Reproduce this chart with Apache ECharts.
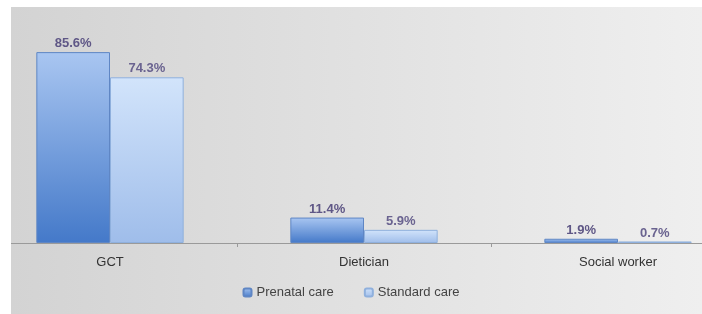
<!DOCTYPE html>
<html lang="en">
<head>
    <meta charset="UTF-8">
    <title>Care chart</title>
    <script src="https://cdn.jsdelivr.net/npm/echarts@6/dist/echarts.min.js"></script>
    <style>
        html, body {margin: 0; padding: 0; background: #fff;}
        #chart_box {width: 702px; height: 314px;}
    </style>
</head>
<body>
<div id="chart_box"></div>
<script>
    var categories = ['GCT', 'Dietician', 'Social worker'];
    var prenatalCare = [85.6, 11.4, 1.9];
    var standardCare = [74.3, 5.9, 0.7];
    var seriesNames = ['Prenatal care', 'Standard care'];

    var chart = echarts.init(document.getElementById('chart_box'));

    function barLabel(color) {
        return {
            show: true,
            position: 'top',
            distance: 2,
            color: color,
            fontFamily: 'Liberation Sans',
            fontWeight: 'bold',
            fontSize: 13,
            formatter: function (p) { return p.value.toFixed(1) + '%'; }
        };
    }

    var option = {
        animation: false,
        graphic: [{
            type: 'rect',
            silent: true,
            z: -10,
            shape: {x: 11, y: 7, width: 691, height: 307},
            style: {
                fill: new echarts.graphic.LinearGradient(0, 0, 1, 0, [
                    {offset: 0, color: '#d3d3d3'},
                    {offset: 1, color: '#efefef'}
                ])
            }
        }, {
            // white margin on the left, over the axis line
            type: 'rect',
            silent: true,
            z: 100,
            shape: {x: 0, y: 0, width: 11, height: 314},
            style: {fill: '#ffffff'}
        }],
        grid: {  //plot area, wider than the picture like the original
            left: -17,
            width: 762,
            top: 20,
            bottom: 71,
            outerBoundsMode: 'none'
        },
        legend: {
            bottom: 10,
            left: 'center',
            itemWidth: 8,
            itemHeight: 8,
            itemGap: 30,
            textStyle: {color: '#444', fontSize: 13, fontFamily: 'Liberation Sans'},
            data: seriesNames
        },
        xAxis: {
            type: 'category',
            data: categories,
            axisLine: {lineStyle: {color: '#9a9a9a', width: 1}},
            axisTick: {show: true, length: 4, lineStyle: {color: '#9a9a9a'}},
            axisLabel: {color: '#333', fontSize: 13, margin: 13, fontFamily: 'Liberation Sans'}
        },
        yAxis: {
            type: 'value',
            min: 0,
            max: 100,
            show: false,
            splitLine: {show: false}
        },
        series: [
            {
                name: seriesNames[0],
                type: 'bar',
                barGap: '0%',
                barCategoryGap: '42%',
                data: prenatalCare,
                itemStyle: {
                    color: new echarts.graphic.LinearGradient(0, 0, 0, 1, [
                        {offset: 0, color: '#a9c6f1'},
                        {offset: 1, color: '#4479c9'}
                    ]),
                    borderColor: '#5f86c4',
                    borderWidth: 1,
                    borderType: 'solid'
                },
                label: barLabel('#5f5786')
            },
            {
                name: seriesNames[1],
                type: 'bar',
                data: standardCare,
                itemStyle: {
                    color: new echarts.graphic.LinearGradient(0, 0, 0, 1, [
                        {offset: 0, color: '#d2e4fb'},
                        {offset: 1, color: '#9fbdea'}
                    ]),
                    borderColor: '#8fb0dd',
                    borderWidth: 1
                },
                label: barLabel('#6a6390')
            }
        ]
    };
    chart.setOption(option);
</script>
</body>
</html>
